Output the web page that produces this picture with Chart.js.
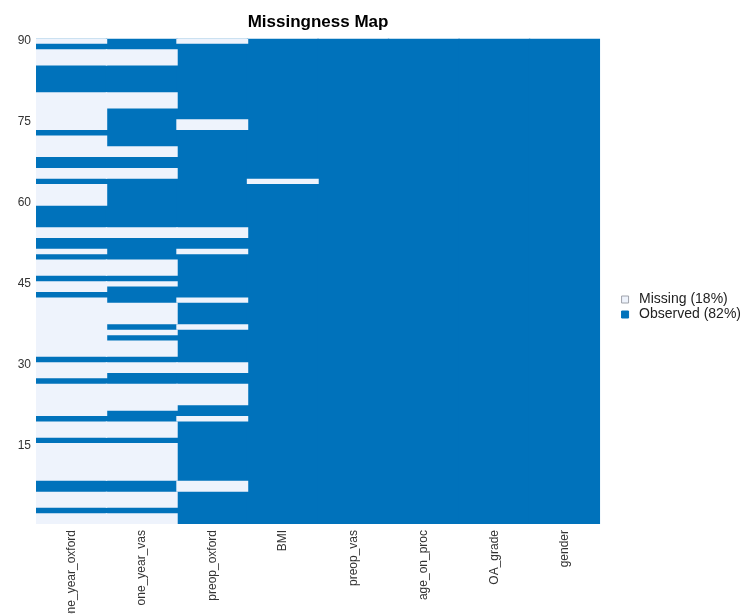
<!DOCTYPE html>
<html>
<head>
<meta charset="utf-8">
<script src="https://cdn.jsdelivr.net/npm/chart.js@4"></script>
<style>
  body { margin: 0; background: #fff; }
</style>
</head>
<body>
<canvas id="map" width="745" height="614"></canvas>
<script>
var variables = ['one_year_oxford', 'one_year_vas', 'preop_oxford', 'BMI', 'preop_vas', 'age_on_proc', 'OA_grade', 'gender'];
var rowCount = 90;
var yTicks = [15, 30, 45, 60, 75, 90];

// row numbers (1 = bottom, 90 = top) where each variable is missing
var oneYearOxfordMissing = [90, 88, 87, 86, 80, 79, 78, 77, 76, 75, 74, 72, 71, 70, 69, 66, 65,
  63, 62, 61, 60, 55, 54, 51, 49, 48, 47, 45, 44, 42, 41, 40, 39, 38, 37, 36, 35, 34, 33, 32,
  30, 29, 28, 26, 25, 24, 23, 22, 21, 19, 18, 17, 15, 14, 13, 12, 11, 10, 9, 6, 5, 4, 2, 1];
var oneYearVasMissing = [88, 87, 86, 80, 79, 78, 70, 69, 66, 65, 55, 54, 49, 48, 47, 45,
  41, 40, 39, 38, 36, 34, 33, 32, 30, 29, 26, 25, 24, 23, 22, 19, 18, 17,
  15, 14, 13, 12, 11, 10, 9, 6, 5, 4, 2, 1];
var preopOxfordMissing = [90, 75, 74, 55, 54, 51, 42, 37, 30, 29, 26, 25, 24, 23, 20, 8, 7];
var bmiMissing = [64];
var preopVasMissing = [];
var ageOnProcMissing = [];
var oaGradeMissing = [];
var genderMissing = [];

var missingRows = [oneYearOxfordMissing, oneYearVasMissing, preopOxfordMissing, bmiMissing,
  preopVasMissing, ageOnProcMissing, oaGradeMissing, genderMissing];

var missColor = '#eef3fc';
var obsColor = '#0072bb';

Chart.defaults.font.family = "'Liberation Sans', Arial, sans-serif";

// join neighbouring missing rows into one block so no seams show
var missingBlocks = [];
var missCount = 0;
for (let c = 0; c < variables.length; c++) {
  var rows = missingRows[c].slice().sort(function(a, b) { return a - b; });
  missCount += rows.length;
  var i = 0;
  while (i < rows.length) {
    var j = i;
    while (j + 1 < rows.length && rows[j + 1] === rows[j] + 1) j++;
    missingBlocks.push({x: variables[c], y: [rows[i] - 0.5, rows[j] + 0.5]});
    i = j + 1;
  }
}
var missPct = Math.round(100 * missCount / (rowCount * variables.length));

new Chart(document.getElementById('map'), {
  type: 'bar',
  data: {
    labels: variables,
    datasets: [{
      label: 'Missing (' + missPct + '%)',
      data: missingBlocks,
      backgroundColor: missColor
    }, {
      label: 'Observed (' + (100 - missPct) + '%)',
      data: variables.map(function(v) { return {x: v, y: [0.5, rowCount + 0.5]}; }),
      backgroundColor: obsColor
    }]
  },
  options: {
    responsive: false,
    animation: false,
    datasets: {
      // barPercentage a bit over 1 so neighbouring columns overlap and leave no seam
      bar: { grouped: false, barPercentage: 1.02, categoryPercentage: 1, borderWidth: 0 }
    },
    layout: { padding: { right: -6 } },
    plugins: {
      title: {
        display: true,
        text: 'Missingness Map',
        fullSize: false,
        color: '#000',
        font: { size: 17, weight: 'bold' },
        padding: { top: 12, bottom: 6 }
      },
      legend: {
        position: 'right',
        labels: {
          usePointStyle: true,
          pointStyle: 'rect',
          boxWidth: 14,
          boxHeight: 7,
          padding: 1,
          color: '#222',
          font: { size: 14 },
          generateLabels: function(chart) {
            var items = Chart.defaults.plugins.legend.labels.generateLabels(chart);
            items[0].strokeStyle = '#a0a4ac';
            items[0].lineWidth = 1;
            items[1].strokeStyle = obsColor;
            items[1].lineWidth = 1;
            return items;
          }
        }
      },
      tooltip: { enabled: false }
    },
    scales: {
      x: {
        grid: { display: false, drawTicks: false },
        border: { display: false },
        ticks: { minRotation: 90, maxRotation: 90, autoSkip: false, padding: 6, color: '#333', font: { size: 12 } },
        afterFit: function(scale) { scale.height = 90; }
      },
      y: {
        min: 0.5,
        max: rowCount + 0.5,
        grid: { display: false, drawTicks: false },
        border: { display: false },
        ticks: { padding: 5, color: '#333', font: { size: 12 } },
        afterBuildTicks: function(scale) {
          scale.ticks = yTicks.map(function(v) { return {value: v}; });
        },
        afterFit: function(scale) { scale.width = 36; }
      },
      // hidden strip that keeps a gap between the map and the legend
      gap: {
        type: 'linear',
        position: 'right',
        display: false,
        afterFit: function(scale) { scale.width = 17; }
      }
    }
  }
});
</script>
</body>
</html>
